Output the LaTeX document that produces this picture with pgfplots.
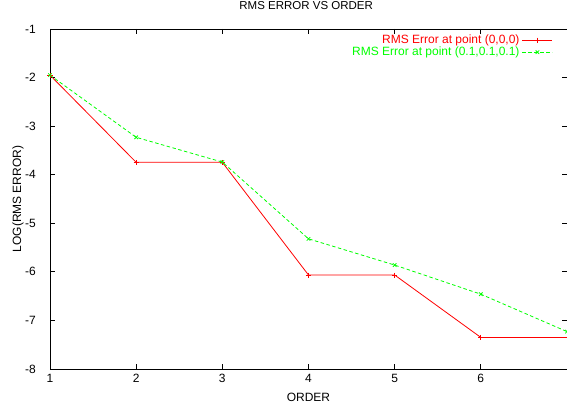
\documentclass[border=0pt]{standalone}
\usepackage{pgfplots}
\pgfplotsset{compat=1.18}
\usepackage{fontspec}
\setmainfont{Liberation Sans}
\begin{document}
\fontsize{12bp}{14bp}\selectfont
\begin{tikzpicture}
\path[use as bounding box] (-50bp,-37bp) rectangle (517bp,369bp);
\begin{axis}[
  at={(0,0)}, anchor=south west,
  scale only axis, width=517bp, height=340bp,
  xmin=1, xmax=7, ymin=-8, ymax=-1,
  xtick={1,2,3,4,5,6}, xticklabels={1,2,3,4,5,6},
  ytick={-8,-7,-6,-5,-4,-3,-2,-1},
  yticklabels={-8,-7,-6,-5,-4,-3,-2,-1},
  tick align=inside, major tick length=5bp,
  axis line style={line width=0.8bp},
  every tick/.style={black, line width=0.8bp},
  tick label style={font=\fontsize{12bp}{14bp}\selectfont},
  yticklabel style={xshift=-10bp},
  xticklabel style={yshift=-1bp},
  title={RMS ERROR VS ORDER},
  title style={at={(axis description cs:0.4955,1.05)}, anchor=center, font=\fontsize{11.5bp}{14bp}\selectfont},
  xlabel={ORDER},
  xlabel style={at={(axis description cs:0.5,-0.0824)}, anchor=center, font=\fontsize{12bp}{14bp}\selectfont},
  ylabel={LOG(RMS ERROR)},
  ylabel style={at={(axis description cs:-0.0619,0.5)}, anchor=center, rotate=0, font=\fontsize{12bp}{14bp}\selectfont},
  legend style={at={(rel axis cs:1,1)}, anchor=north east, xshift=-11bp, yshift=-3bp,
    draw=none, fill=none, row sep=0bp, font=\fontsize{12bp}{14bp}\selectfont,
    nodes={inner sep=0.5bp, text height=8.5bp, text depth=2.5bp}},
  legend cell align=right,
  legend plot pos=right,
  legend image code/.code={\draw[mark repeat=2,mark phase=2,#1] plot coordinates {(0bp,0bp) (15bp,0bp) (30bp,0bp)};},
]
\addplot[red, line width=0.8bp, mark=+, mark size=2.5bp] coordinates {
(1,-1.95) (2,-3.745) (3,-3.745) (4,-6.065) (5,-6.065) (6,-7.35) (7,-7.35)};
\addlegendentry[text=red]{RMS Error at point (0,0,0)\,}
\addplot[green, line width=0.8bp, dash pattern=on 3.5bp off 2.5bp, mark=x, mark size=2.5bp, mark options={solid}] coordinates {
(1,-1.95) (2,-3.23) (3,-3.74) (4,-5.32) (5,-5.86) (6,-6.46) (7,-7.23)};
\addlegendentry[text=green]{RMS Error at point (0.1,0.1,0.1)\,}
\end{axis}
\end{tikzpicture}
\end{document}
